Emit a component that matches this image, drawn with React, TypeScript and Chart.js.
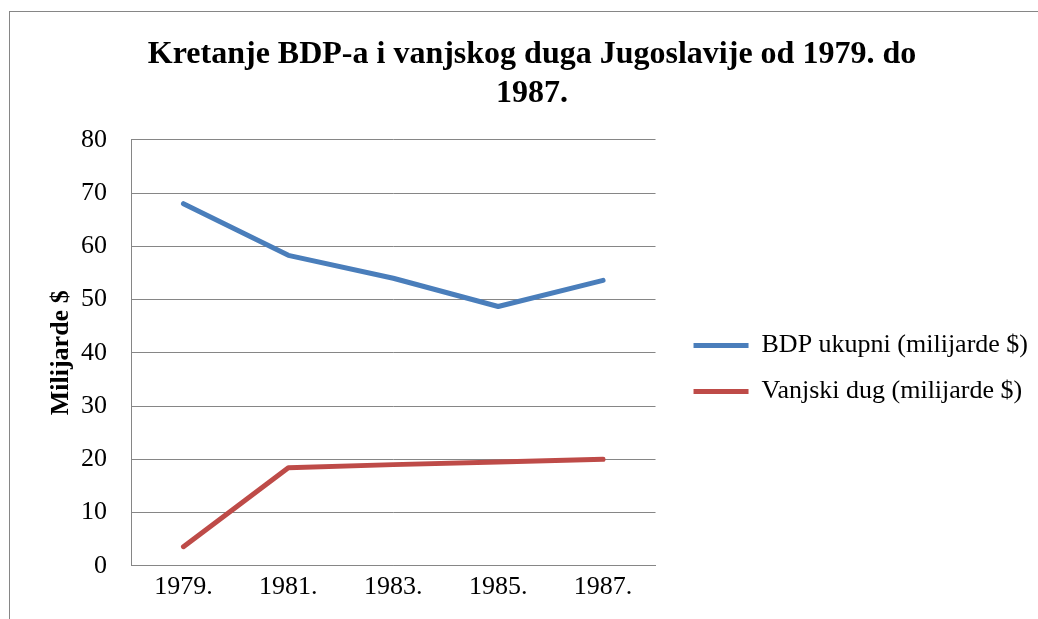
import React, { useEffect, useRef } from "react";
import { Chart, registerables } from "chart.js";

Chart.register(...registerables);

const categories = ["1979.", "1981.", "1983.", "1985.", "1987."];
const bdpValues = [68.0, 58.3, 54.0, 48.7, 53.6];
const dugValues = [3.6, 18.4, 19.0, 19.5, 20.0];
const seriesNames = ["BDP ukupni (milijarde $)", "Vanjski dug (milijarde $)"];
const titleLines = ["Kretanje BDP-a i vanjskog duga Jugoslavije od 1979. do", "1987."];
const yAxisTitle = "Milijarde $";
const yMin = 0;
const yMax = 80;
const yStep = 10;

const SERIF = "'Liberation Serif', 'Times New Roman', serif";
const GRID = "#868686";

export default function App() {
  const ref = useRef<HTMLCanvasElement | null>(null);

  useEffect(() => {
    if (!ref.current) return;
    const chart = new Chart(ref.current, {
      type: "line",
      data: {
        labels: categories,
        datasets: [
          {
            label: seriesNames[0],
            data: bdpValues,
            borderColor: "#4A7EBB",
            backgroundColor: "#4A7EBB",
            borderWidth: 5,
            borderCapStyle: "round",
            borderJoinStyle: "round",
            pointRadius: 0,
            tension: 0,
          },
          {
            label: seriesNames[1],
            data: dugValues,
            borderColor: "#BE4B48",
            backgroundColor: "#BE4B48",
            borderWidth: 5,
            borderCapStyle: "round",
            borderJoinStyle: "round",
            pointRadius: 0,
            tension: 0,
          },
        ],
      },
      options: {
        animation: false,
        responsive: false,
        maintainAspectRatio: false,
        layout: { padding: { left: 26, right: 0, top: 0, bottom: 10 } },
        plugins: {
          title: {
            display: true,
            text: titleLines,
            color: "#000",
            font: { family: SERIF, size: 32, weight: "bold", lineHeight: 1.2 },
            padding: { top: 36, bottom: 27 },
          },
          legend: {
            display: true,
            position: "right",
            align: "center",
            maxWidth: 420,
            title: { display: true, text: " ", font: { size: 10, lineHeight: 1.2 }, padding: 58 },
            labels: {
              usePointStyle: true,
              pointStyle: "line",
              pointStyleWidth: 55,
              boxHeight: 26,
              padding: 20,
              color: "#000",
              font: { family: SERIF, size: 26 },
            },
          },
          tooltip: { enabled: false },
        },
        scales: {
          x: {
            offset: true,
            grid: { display: false, drawTicks: false },
            border: { display: true, color: GRID, width: 1 },
            ticks: { color: "#000", font: { family: SERIF, size: 26 }, padding: 6, maxRotation: 0 },
          },
          y: {
            min: yMin,
            max: yMax,
            ticks: { stepSize: yStep, color: "#000", font: { family: SERIF, size: 26 }, padding: 24 },
            grid: { color: GRID, lineWidth: 1, drawTicks: false },
            border: { display: true, color: GRID, width: 1 },
            title: {
              display: true,
              text: yAxisTitle,
              color: "#000",
              font: { family: SERIF, size: 26, weight: "bold", lineHeight: 1.2 },
              padding: { top: 20, bottom: 0 },
            },
            afterFit: (s: any) => {
              s.width = 105;
            },
          },
          y2: {
            position: "right",
            display: true,
            grid: { display: false, drawTicks: false },
            border: { display: false },
            ticks: { display: false },
            afterFit: (s: any) => {
              s.width = 18;
            },
          },
        },
      },
    });
    return () => chart.destroy();
  }, []);

  return (
    <div style={{ position: "fixed", left: 0, top: 0, width: 1038, height: 619, overflow: "hidden", background: "#fff" }}>
      <div
        style={{
          position: "absolute",
          left: 9,
          top: 11,
          width: 1200,
          height: 800,
          border: `1px solid ${GRID}`,
          boxSizing: "border-box",
        }}
      />
      <canvas ref={ref} width={1038} height={619} style={{ position: "absolute", left: 0, top: 0, width: 1038, height: 619 }} />
    </div>
  );
}
